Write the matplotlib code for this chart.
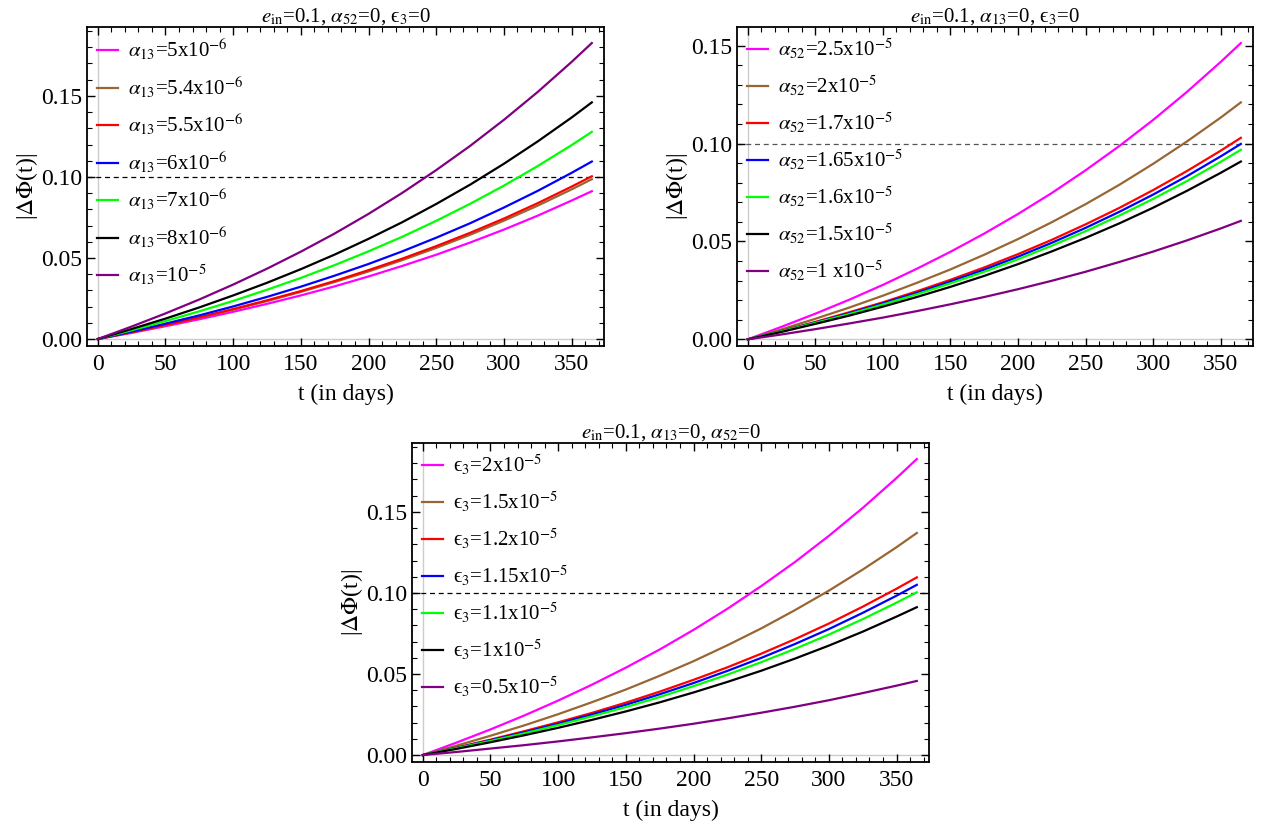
import matplotlib
matplotlib.use('Agg')
import matplotlib.pyplot as plt
from matplotlib.ticker import MultipleLocator, FormatStrFormatter

plt.rcParams['font.family'] = ['Liberation Serif', 'DejaVu Serif']
plt.rcParams['mathtext.fontset'] = 'stix'

# time samples (days)
t = [0, 25, 50, 75, 100, 125, 150, 175, 200, 225, 250, 275, 300, 325, 350, 365]

# panel 1: e_in=0.1, alpha52=0, eps3=0
p1_labels = [r'$\alpha_{13}$=5x10$^{-6}$', r'$\alpha_{13}$=5.4x10$^{-6}$', r'$\alpha_{13}$=5.5x10$^{-6}$',
             r'$\alpha_{13}$=6x10$^{-6}$', r'$\alpha_{13}$=7x10$^{-6}$', r'$\alpha_{13}$=8x10$^{-6}$',
             r'$\alpha_{13}$=10$^{-5}$']
p1_magenta = [0, 0.0038, 0.0079, 0.0122, 0.0168, 0.0217, 0.0269, 0.0325, 0.0386, 0.0451, 0.0520, 0.0595, 0.0675, 0.0761, 0.0854, 0.0912]
p1_brown = [0, 0.0042, 0.0085, 0.0132, 0.0181, 0.0234, 0.0291, 0.0352, 0.0417, 0.0487, 0.0562, 0.0643, 0.0730, 0.0823, 0.0923, 0.0986]
p1_red = [0, 0.0042, 0.0087, 0.0134, 0.0185, 0.0239, 0.0296, 0.0358, 0.0425, 0.0496, 0.0573, 0.0655, 0.0743, 0.0838, 0.0940, 0.1004]
p1_blue = [0, 0.0046, 0.0095, 0.0146, 0.0201, 0.0260, 0.0323, 0.0391, 0.0463, 0.0541, 0.0625, 0.0714, 0.0811, 0.0914, 0.1025, 0.1095]
p1_green = [0, 0.0054, 0.0111, 0.0171, 0.0235, 0.0304, 0.0377, 0.0456, 0.0541, 0.0631, 0.0729, 0.0834, 0.0946, 0.1067, 0.1196, 0.1278]
p1_black = [0, 0.0062, 0.0126, 0.0195, 0.0269, 0.0347, 0.0431, 0.0521, 0.0618, 0.0721, 0.0833, 0.0952, 0.1081, 0.1219, 0.1366, 0.1460]
p1_purple = [0, 0.0077, 0.0158, 0.0244, 0.0336, 0.0434, 0.0539, 0.0651, 0.0772, 0.0902, 0.1042, 0.1191, 0.1352, 0.1524, 0.1709, 0.1826]

# panel 2: e_in=0.1, alpha13=0, eps3=0
p2_labels = [r'$\alpha_{52}$=2.5x10$^{-5}$', r'$\alpha_{52}$=2x10$^{-5}$', r'$\alpha_{52}$=1.7x10$^{-5}$',
             r'$\alpha_{52}$=1.65x10$^{-5}$', r'$\alpha_{52}$=1.6x10$^{-5}$', r'$\alpha_{52}$=1.5x10$^{-5}$',
             r'$\alpha_{52}$=1 x10$^{-5}$']
p2_magenta = [0, 0.0064, 0.0131, 0.0202, 0.0278, 0.0360, 0.0447, 0.0540, 0.0640, 0.0747, 0.0863, 0.0987, 0.1120, 0.1263, 0.1416, 0.1513]
p2_brown = [0, 0.0051, 0.0105, 0.0162, 0.0223, 0.0288, 0.0357, 0.0432, 0.0512, 0.0598, 0.0690, 0.0789, 0.0896, 0.1010, 0.1132, 0.1210]
p2_red = [0, 0.0043, 0.0089, 0.0138, 0.0189, 0.0245, 0.0304, 0.0367, 0.0435, 0.0508, 0.0587, 0.0671, 0.0762, 0.0859, 0.0963, 0.1029]
p2_blue = [0, 0.0042, 0.0086, 0.0133, 0.0184, 0.0237, 0.0295, 0.0356, 0.0422, 0.0493, 0.0569, 0.0651, 0.0739, 0.0833, 0.0934, 0.0998]
p2_green = [0, 0.0041, 0.0084, 0.0129, 0.0178, 0.0230, 0.0286, 0.0345, 0.0409, 0.0478, 0.0552, 0.0632, 0.0717, 0.0808, 0.0906, 0.0968]
p2_black = [0, 0.0038, 0.0079, 0.0121, 0.0167, 0.0216, 0.0268, 0.0324, 0.0384, 0.0449, 0.0518, 0.0592, 0.0672, 0.0758, 0.0850, 0.0908]
p2_purple = [0, 0.0025, 0.0052, 0.0081, 0.0111, 0.0144, 0.0179, 0.0216, 0.0256, 0.0299, 0.0345, 0.0395, 0.0448, 0.0505, 0.0566, 0.0605]

# panel 3: e_in=0.1, alpha13=0, alpha52=0
p3_labels = ['ϵ${}_3$=2x10$^{-5}$', 'ϵ${}_3$=1.5x10$^{-5}$', 'ϵ${}_3$=1.2x10$^{-5}$',
             'ϵ${}_3$=1.15x10$^{-5}$', 'ϵ${}_3$=1.1x10$^{-5}$', 'ϵ${}_3$=1x10$^{-5}$',
             'ϵ${}_3$=0.5x10$^{-5}$']
p3_magenta = [0, 0.0077, 0.0158, 0.0244, 0.0336, 0.0434, 0.0539, 0.0651, 0.0772, 0.0902, 0.1042, 0.1191, 0.1352, 0.1524, 0.1709, 0.1826]
p3_brown = [0, 0.0058, 0.0119, 0.0183, 0.0252, 0.0326, 0.0404, 0.0489, 0.0579, 0.0677, 0.0781, 0.0894, 0.1014, 0.1144, 0.1282, 0.1370]
p3_red = [0, 0.0046, 0.0095, 0.0147, 0.0202, 0.0260, 0.0323, 0.0391, 0.0464, 0.0541, 0.0625, 0.0715, 0.0811, 0.0915, 0.1026, 0.1096]
p3_blue = [0, 0.0044, 0.0091, 0.0140, 0.0193, 0.0250, 0.0310, 0.0375, 0.0444, 0.0519, 0.0599, 0.0685, 0.0777, 0.0877, 0.0983, 0.1050]
p3_green = [0, 0.0042, 0.0087, 0.0134, 0.0185, 0.0239, 0.0296, 0.0358, 0.0425, 0.0496, 0.0573, 0.0655, 0.0743, 0.0838, 0.0940, 0.1004]
p3_black = [0, 0.0038, 0.0079, 0.0122, 0.0168, 0.0217, 0.0269, 0.0325, 0.0386, 0.0451, 0.0520, 0.0595, 0.0675, 0.0761, 0.0854, 0.0912]
p3_purple = [0, 0.0019, 0.0040, 0.0061, 0.0084, 0.0109, 0.0135, 0.0163, 0.0193, 0.0226, 0.0261, 0.0298, 0.0338, 0.0382, 0.0428, 0.0457]

colors = ['#FF00FF', '#996633', '#FF0000', '#0000FF', '#00FF00', '#000000', '#800080']

fig = plt.figure(figsize=(12.64, 8.32), dpi=100)
W, H = 1264, 832
ax1 = fig.add_axes([87 / W, 1 - 346 / H, 517 / W, 319 / H])
ax2 = fig.add_axes([737 / W, 1 - 346 / H, 516 / W, 319 / H])
ax3 = fig.add_axes([412 / W, 1 - 762 / H, 517 / W, 319 / H])


def draw_panel(ax, series, labels, title, ylim, dash_color):
    ax.axvline(0, color='#cccccc', lw=1, zorder=0)
    ax.axhline(0, color='#cccccc', lw=1, zorder=0)
    for ys, c, lab in zip(series, colors, labels):
        ax.plot(t, ys, color=c, lw=1.6, label=lab)
    ax.axhline(0.1, color=dash_color, lw=0.9, ls=(0, (4, 3)), zorder=1)
    ax.set_xlim(-8, 374)
    ax.set_ylim(*ylim)
    ax.xaxis.set_major_locator(MultipleLocator(50))
    ax.xaxis.set_minor_locator(MultipleLocator(10))
    ax.yaxis.set_major_locator(MultipleLocator(0.05))
    ax.yaxis.set_minor_locator(MultipleLocator(0.01))
    ax.yaxis.set_major_formatter(FormatStrFormatter('%.2f'))
    ax.tick_params(which='both', direction='in', top=True, right=True, labelsize=17)
    ax.tick_params(axis='x', which='major', pad=6)
    ax.tick_params(which='major', length=6, width=1)
    ax.tick_params(which='minor', length=3.5, width=0.8)
    for s in ax.spines.values():
        s.set_linewidth(1.3)
    ax.set_xlabel('t (in days)', fontsize=17, labelpad=6)
    ax.set_ylabel(r'|$\Delta\Phi$(t)|', fontsize=17, labelpad=1)
    ax.set_title(title, fontsize=15, pad=3)
    ax.legend(loc='upper left', bbox_to_anchor=(0.02, 0.968), frameon=False, fontsize=15,
              borderpad=0, borderaxespad=0, handlelength=1.0, handletextpad=0.45,
              labelspacing=0.6)


draw_panel(ax1, [p1_magenta, p1_brown, p1_red, p1_blue, p1_green, p1_black, p1_purple], p1_labels,
           r'$e_{\rm in}$=0.1, $\alpha_{52}$=0, ϵ${}_3$=0', (-0.0043, 0.1925), 'black')
draw_panel(ax2, [p2_magenta, p2_brown, p2_red, p2_blue, p2_green, p2_black, p2_purple], p2_labels,
           r'$e_{\rm in}$=0.1, $\alpha_{13}$=0, ϵ${}_3$=0', (-0.0034, 0.1595), '#555555')
draw_panel(ax3, [p3_magenta, p3_brown, p3_red, p3_blue, p3_green, p3_black, p3_purple], p3_labels,
           r'$e_{\rm in}$=0.1, $\alpha_{13}$=0, $\alpha_{52}$=0', (-0.0043, 0.1925), 'black')

fig.savefig('out.png', dpi=100)
